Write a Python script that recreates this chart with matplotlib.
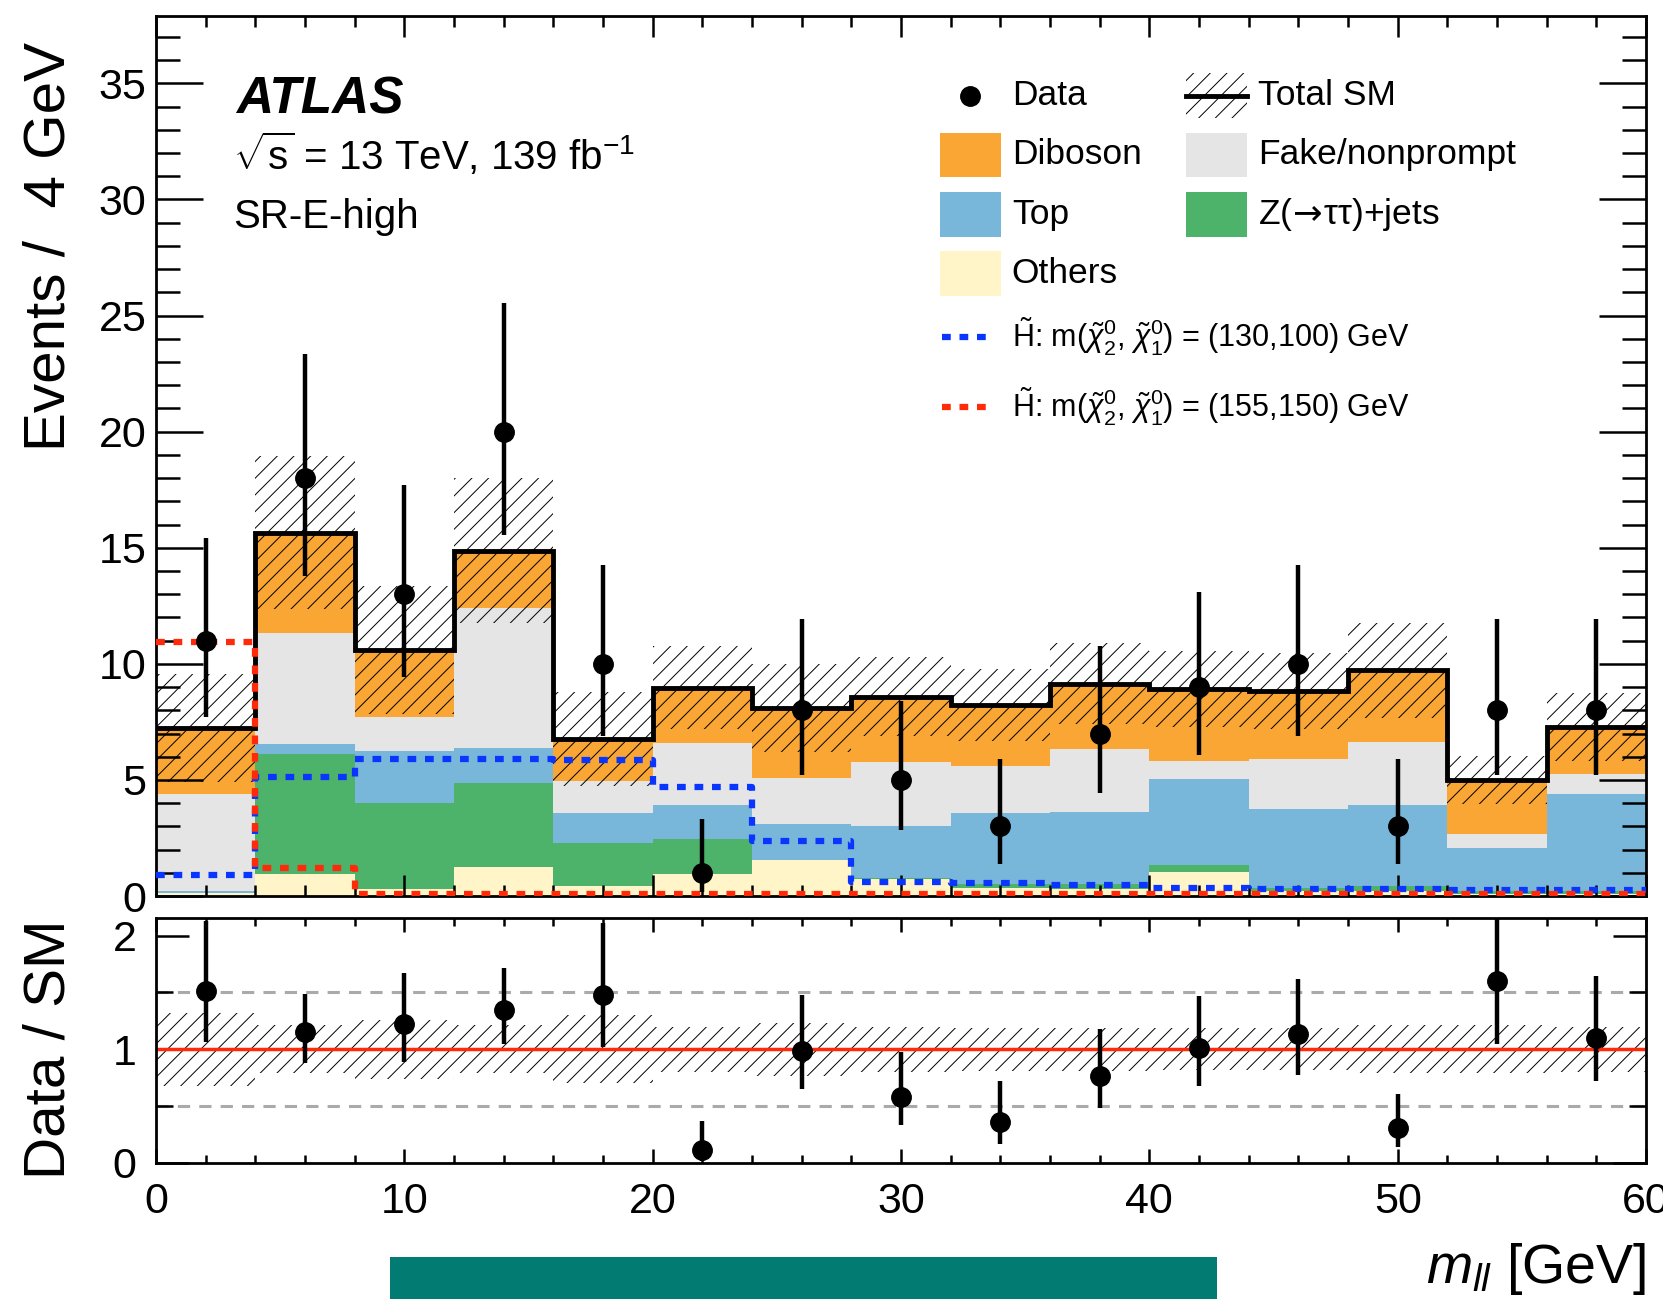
import numpy as np
import matplotlib
matplotlib.use("Agg")
import matplotlib.pyplot as plt
from matplotlib.patches import Rectangle
from matplotlib.lines import Line2D

plt.rcParams['font.family'] = ['Liberation Sans', 'DejaVu Sans']
plt.rcParams['mathtext.fontset'] = 'custom'
plt.rcParams['mathtext.rm'] = 'Liberation Sans'
plt.rcParams['mathtext.it'] = 'Liberation Sans:italic'
plt.rcParams['mathtext.bf'] = 'Liberation Sans:bold'
plt.rcParams['hatch.linewidth'] = 0.7

# m_ll binning (4 GeV bins)
mll_edges = [0, 4, 8, 12, 16, 20, 24, 28, 32, 36, 40, 44, 48, 52, 56, 60]

# background components (events per bin), stacked bottom -> top
others  = [0.15, 0.93, 0.29, 1.26, 0.43, 0.96, 1.54, 0.72, 0.35, 0.30, 1.05, 0.20, 0.20, 0.10, 0.10]
zjets   = [0.00, 5.20, 3.73, 3.62, 1.87, 1.49, 0.02, 0.07, 0.15, 0.20, 0.29, 0.15, 0.25, 0.10, 0.10]
top     = [0.05, 0.42, 2.23, 1.48, 1.28, 1.47, 1.56, 2.23, 3.09, 3.13, 3.69, 3.38, 3.47, 1.86, 4.18]
fake    = [4.20, 4.77, 1.46, 6.06, 1.36, 2.66, 1.96, 2.77, 2.00, 2.72, 0.79, 2.16, 2.73, 0.60, 0.86]
diboson = [2.85, 4.33, 2.89, 2.46, 1.81, 2.39, 3.01, 2.80, 2.64, 2.80, 3.10, 2.95, 3.07, 2.34, 2.04]

sm_rel_unc = [0.32, 0.21, 0.26, 0.21, 0.30, 0.20, 0.235, 0.20, 0.19, 0.19, 0.185, 0.185, 0.21, 0.21, 0.20]

# data with asymmetric poisson errors
data    = [11, 18, 13, 20, 10, 1, 8, 5, 3, 7, 9, 10, 3, 8, 8]
data_lo = [3.28, 4.21, 3.57, 4.44, 3.12, 0.83, 2.77, 2.16, 1.63, 2.58, 2.94, 3.12, 1.63, 2.77, 2.77]
data_hi = [4.43, 5.33, 4.71, 5.56, 4.27, 2.30, 3.95, 3.38, 2.92, 3.77, 4.11, 4.27, 2.92, 3.95, 3.95]

# signal benchmarks
sig_130_100 = [0.90, 5.13, 5.89, 5.89, 5.87, 4.71, 2.37, 0.62, 0.57, 0.47, 0.35, 0.30, 0.30, 0.27, 0.25]
sig_155_150 = [10.96, 1.22, 0.08, 0.08, 0.08, 0.08, 0.08, 0.08, 0.08, 0.08, 0.08, 0.08, 0.08, 0.08, 0.08]

zlabel = r'Z($\!\rightarrow\!$ττ)+jets'
components = [
    ('Others', others, '#fff5c8'),
    (zlabel, zjets, '#4db36b'),
    ('Top', top, '#79b7da'),
    ('Fake/nonprompt', fake, '#e5e5e5'),
    ('Diboson', diboson, '#f9a634'),
]

edges = np.array(mll_edges, dtype=float)
lo_edges = edges[:-1]
centers = 0.5 * (edges[:-1] + edges[1:])
width = edges[1] - edges[0]

total = np.zeros(len(lo_edges))
for _, vals, _ in components:
    total += np.array(vals)
unc = total * np.array(sm_rel_unc)

fig = plt.figure(figsize=(16.63, 12.99), dpi=100)
ax = fig.add_axes([0.0938, 0.3102, 0.896, 0.6775])
rax = fig.add_axes([0.0938, 0.1047, 0.896, 0.1886])

# --- main panel ---
bottom = np.zeros(len(lo_edges))
for name, vals, col in components:
    ax.bar(lo_edges, vals, width=width, bottom=bottom, align='edge',
           color=col, linewidth=0, zorder=1)
    bottom += np.array(vals)

ax.bar(lo_edges, 2 * unc, width=width, bottom=total - unc, align='edge',
       fill=False, hatch='//', edgecolor='k', linewidth=0, zorder=2)
ax.stairs(total, edges, baseline=None, color='k', linewidth=3.5, zorder=3)

dot = (0, (1.4, 1.4))
ax.step(edges, np.append(sig_130_100, sig_130_100[-1]), where='post',
        color='#0a35ff', linewidth=4.5, linestyle=dot, dash_capstyle='butt', zorder=4)
ax.step(edges, np.append(sig_155_150, sig_155_150[-1]), where='post',
        color='#ff2a0a', linewidth=4.5, linestyle=dot, dash_capstyle='butt', zorder=4)

ax.errorbar(centers, data, yerr=[data_lo, data_hi], fmt='o', color='k',
            markersize=14, elinewidth=3.2, capsize=0, zorder=5)

ax.set_xlim(0, 60)
ax.set_ylim(0, 37.9)
ax.set_xticks(np.arange(0, 61, 10))
ax.set_xticks(np.arange(0, 61, 2), minor=True)
ax.set_yticks(np.arange(0, 36, 5))
ax.set_yticks(np.arange(0, 38, 1), minor=True)
ax.tick_params(which='both', direction='in', top=True, right=True, width=1.8)
ax.tick_params(axis='x', which='major', length=15, labelbottom=False)
ax.tick_params(axis='x', which='minor', length=8)
ax.tick_params(axis='y', which='major', length=34, labelsize=31, pad=7)
ax.tick_params(axis='y', which='minor', length=17)
for sp in ax.spines.values():
    sp.set_linewidth(2)

# ATLAS label
ax.text(0.0534, 0.889, 'ATLAS', transform=ax.transAxes, fontsize=37,
        fontweight='bold', fontstyle='italic', va='baseline')
ax.text(0.052, 0.825, r'$\sqrt{\mathrm{s}}$ = 13 TeV, 139 fb$^{-1}$', transform=ax.transAxes,
        fontsize=29, va='baseline')
ax.text(0.052, 0.759, 'SR-E-high', transform=ax.transAxes, fontsize=29, va='baseline')

# legend (manual layout)
pw, ph = 0.0413, 0.0506
c1_box, c1_txt = 0.526, 0.5744
c2_box, c2_txt = 0.691, 0.7395
leg_fs = 25.5

def leg_box(x, y, color, label, tx, **kw):
    ax.add_patch(Rectangle((x, y - ph / 2), pw, ph, transform=ax.transAxes,
                           facecolor=color, edgecolor='none', zorder=6))
    ax.text(tx, y, label, transform=ax.transAxes, fontsize=leg_fs, va='center',
            zorder=6, **kw)

ax.add_line(Line2D([0.5466], [0.9096], transform=ax.transAxes, marker='o',
                   markersize=14, color='k', zorder=6))
ax.text(c1_txt, 0.9096, 'Data', transform=ax.transAxes, fontsize=leg_fs, va='center')
ax.add_patch(Rectangle((c2_box, 0.9096 - ph / 2), pw, ph, transform=ax.transAxes,
                       fill=False, hatch='//', edgecolor='k', linewidth=0, zorder=6))
ax.add_line(Line2D([c2_box, c2_box + pw], [0.9096, 0.9096], transform=ax.transAxes,
                   color='k', linewidth=3.5, zorder=6))
ax.text(c2_txt, 0.9096, 'Total SM', transform=ax.transAxes, fontsize=leg_fs, va='center')

leg_box(c1_box, 0.8422, '#f9a634', 'Diboson', c1_txt)
leg_box(c2_box, 0.8422, '#e5e5e5', 'Fake/nonprompt', c2_txt)
leg_box(c1_box, 0.7747, '#79b7da', 'Top', c1_txt)
leg_box(c2_box, 0.7747, '#4db36b', zlabel, c2_txt, math_fontfamily='dejavusans')
leg_box(c1_box, 0.7072, '#fff5c8', 'Others', c1_txt)

sig_rows = [(0.6349, '#0a35ff', '(130,100)'), (0.5554, '#ff2a0a', '(155,150)')]
for y, col, masses in sig_rows:
    ax.add_line(Line2D([0.5274, 0.5609], [y, y], transform=ax.transAxes, color=col,
                       linewidth=4.5, linestyle=dot, dash_capstyle='butt', zorder=6))
    ax.text(c1_txt, y,
            r'$\tilde{\mathrm{H}}$: m($\tilde{\chi}^{0}_{2}$, $\tilde{\chi}^{0}_{1}$) = ' + masses + ' GeV',
            transform=ax.transAxes, fontsize=22, va='center')

# --- ratio panel ---
rel = np.array(sm_rel_unc)
rax.bar(lo_edges, 2 * rel, width=width, bottom=1 - rel, align='edge',
        fill=False, hatch='//', edgecolor='k', linewidth=0, zorder=1)
rax.axhline(0.5, color='#aaaaaa', linewidth=2.2, linestyle=(0, (4, 3)), zorder=1)
rax.axhline(1.5, color='#aaaaaa', linewidth=2.2, linestyle=(0, (4, 3)), zorder=1)
rax.axhline(1.0, color='#ff2a0a', linewidth=2.5, zorder=2)

ratio = np.array(data) / total
rax.errorbar(centers, ratio, yerr=[np.array(data_lo) / total, np.array(data_hi) / total],
             fmt='o', color='k', markersize=14, elinewidth=3.2, capsize=0, zorder=5)

rax.set_xlim(0, 60)
rax.set_ylim(0, 2.155)
rax.set_xticks(np.arange(0, 61, 10))
rax.set_xticks(np.arange(0, 61, 2), minor=True)
rax.set_yticks([0, 1, 2])
rax.set_yticks([0.5, 1.5], minor=True)
rax.tick_params(which='both', direction='in', top=True, right=True, width=1.8)
rax.tick_params(axis='x', which='major', length=10, labelsize=31, pad=14)
rax.tick_params(axis='x', which='minor', length=5.5)
rax.tick_params(axis='y', which='major', length=24, labelsize=31, pad=14)
rax.tick_params(axis='y', which='minor', length=12)
for sp in rax.spines.values():
    sp.set_linewidth(2)

# axis titles
fig.text(0.030, 1 - 42 / 1299, 'Events /  4 GeV', rotation=90, fontsize=42,
         ha='center', va='top')
fig.text(0.030, 1 - 1049 / 1299, 'Data / SM', rotation=90, fontsize=42,
         ha='center', va='center')
fig.text(1646 / 1663, 1 - 1283 / 1299, r'$m_{ll}$ [GeV]', fontsize=40,
         ha='right', va='baseline')

# teal bar at the bottom of the image
fig.add_artist(Rectangle((390 / 1663, 0), 827 / 1663, 42 / 1299,
                         transform=fig.transFigure, facecolor='#027b72',
                         edgecolor='none'))

fig.savefig('out.png', dpi=100)
